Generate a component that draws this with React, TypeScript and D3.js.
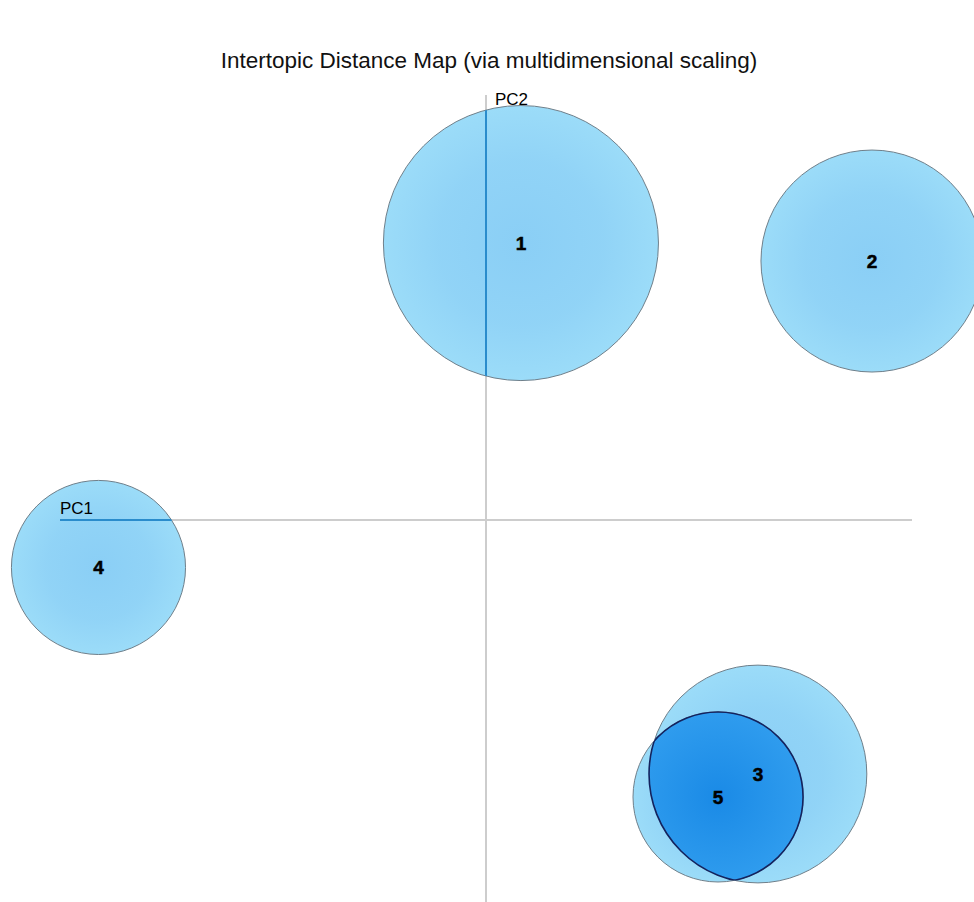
import React from "react";
import * as d3 from "d3";

// topic positions on the two principal components + marginal topic share (%)
const topicIds = ["1", "2", "3", "4", "5"];
const pc1 = [0.0246, 0.2718, 0.1915, -0.2729, 0.1634];
const pc2 = [0.1955, 0.1828, -0.1793, -0.0335, -0.1955];
const topicShare = [32.7, 21.3, 20.5, 13.1, 12.5];
const selectedTopic = "5";
const overlapTopic = "3";

const W = 974;
const H = 902;

const App = () => {
  // Scales
  const x = d3.scaleLinear().domain([-0.3, 0.3]).range([60, 912]);
  const y = d3.scaleLinear().domain([-0.3, 0.3]).range([945, 95]);
  const r = d3.scaleSqrt().domain([0, 100]).range([0, 240.5]);

  const topics = topicIds.map((id, i) => ({
    id,
    cx: x(pc1[i]),
    cy: y(pc2[i]),
    r: r(topicShare[i]),
  }));
  const sel = topics.find((t) => t.id === selectedTopic)!;
  const other = topics.find((t) => t.id === overlapTopic)!;

  const x0 = x(0);
  const y0 = y(0);

  return (
    <svg
      width={W}
      height={H}
      style={{ position: "absolute", left: 0, top: 0, background: "#fff" }}
      fontFamily="'Liberation Sans', Arial, sans-serif"
    >
      <defs>
        <radialGradient id="bubble" cx="50%" cy="50%" r="50%">
          <stop offset="0%" stopColor="#84ccf5" />
          <stop offset="60%" stopColor="#8bd1f6" />
          <stop offset="100%" stopColor="#96daf8" />
        </radialGradient>
        <radialGradient id="bubbleSel" cx="50%" cy="50%" r="50%">
          <stop offset="0%" stopColor="#1a8ae6" />
          <stop offset="100%" stopColor="#2f9cee" />
        </radialGradient>
        <clipPath id="allCircles">
          {topics.map((t) => (
            <circle key={t.id} cx={t.cx} cy={t.cy} r={t.r} />
          ))}
        </clipPath>
        <clipPath id="clipSel">
          <circle cx={sel.cx} cy={sel.cy} r={sel.r} />
        </clipPath>
        <clipPath id="clipOther">
          <circle cx={other.cx} cy={other.cy} r={other.r} />
        </clipPath>
      </defs>

      {/* Title */}
      <text x={489} y={68} textAnchor="middle" fontSize={22.5} fill="#111">
        Intertopic Distance Map (via multidimensional scaling)
      </text>

      {/* Axes */}
      <line x1={x(-0.3)} x2={x(0.3)} y1={y0} y2={y0} stroke="#cdcdcd" strokeWidth={2} />
      <line x1={x0} x2={x0} y1={y(0.3)} y2={y(-0.3)} stroke="#cdcdcd" strokeWidth={2} />

      {/* Topic bubbles */}
      {topics.map((t) => (
        <circle
          key={t.id}
          cx={t.cx}
          cy={t.cy}
          r={t.r}
          fill="url(#bubble)"
          fillOpacity={0.95}
          stroke="#6f7f8a"
          strokeWidth={1}
        />
      ))}

      {/* Overlap of selected topic with its neighbour */}
      <g clipPath="url(#clipOther)">
        <circle cx={sel.cx} cy={sel.cy} r={sel.r} fill="url(#bubbleSel)" />
        <circle cx={sel.cx} cy={sel.cy} r={sel.r} fill="none" stroke="#14235e" strokeWidth={1.6} />
      </g>
      <g clipPath="url(#clipSel)">
        <circle cx={other.cx} cy={other.cy} r={other.r} fill="none" stroke="#14235e" strokeWidth={1.6} />
      </g>

      {/* Axis lines seen through the bubbles */}
      <g clipPath="url(#allCircles)">
        <line x1={x(-0.3)} x2={x(0.3)} y1={y0} y2={y0} stroke="#2a8ccc" strokeWidth={2} />
        <line x1={x0} x2={x0} y1={y(0.3)} y2={y(-0.3)} stroke="#2a8ccc" strokeWidth={2} />
      </g>

      <text x={x(-0.3)} y={y0 - 6} fontSize={17} fill="#000">PC1</text>
      <text x={x0 + 9} y={y(0.3) + 10} fontSize={17} fill="#000">PC2</text>

      {/* Topic labels */}
      {topics.map((t) => (
        <text
          key={t.id}
          x={t.cx}
          y={t.cy}
          dy="0.36em"
          textAnchor="middle"
          fontSize={19}
          fontWeight="bold"
          fill="#000"
          stroke="#000"
          strokeWidth={0.5}
        >
          {t.id}
        </text>
      ))}
    </svg>
  );
};

export default App;
